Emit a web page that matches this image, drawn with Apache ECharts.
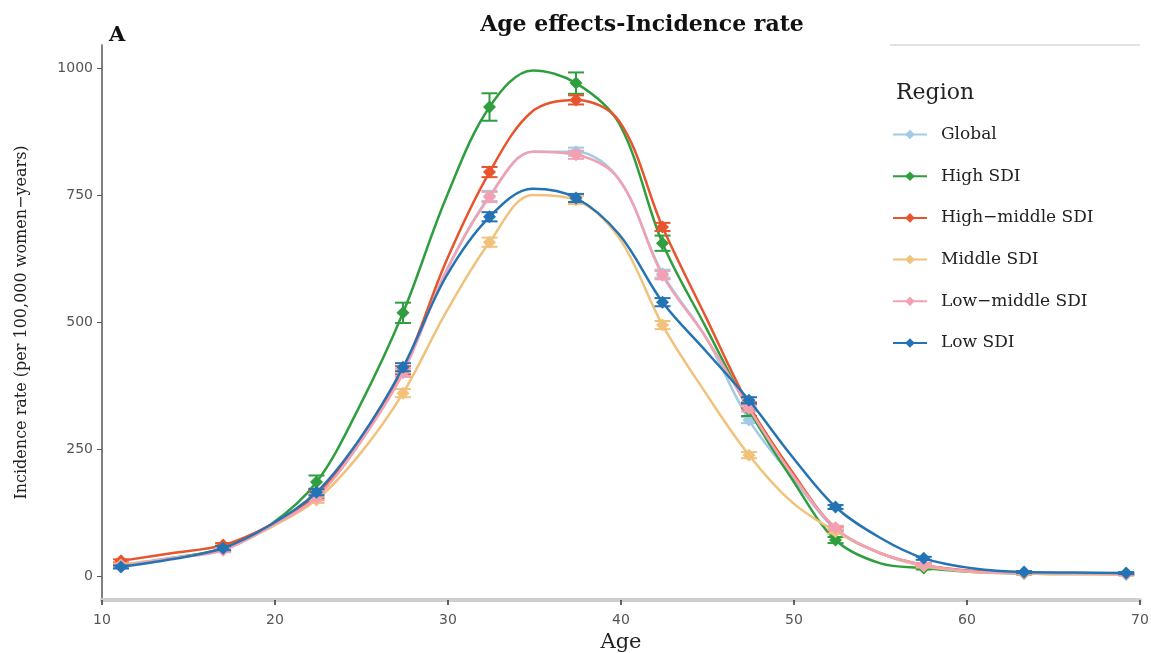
<!DOCTYPE html>
<html>
<head>
<meta charset="utf-8">
<script src="https://cdn.jsdelivr.net/npm/echarts@6/dist/echarts.min.js"></script>
<style>html,body{margin:0;padding:0;background:#fff;}#c{width:1151px;height:653px;}</style>
</head>
<body>
<div id="c"></div>
<script>
// ---- data ----
const regions = ['Global', 'High SDI', 'High\u2212middle SDI', 'Middle SDI', 'Low\u2212middle SDI', 'Low SDI'];
const colors = ['#9fcbe5', '#2f9e3f', '#e8552d', '#f0c27b', '#f2a0b2', '#2473b4'];
// ages where the group markers sit
const ages = [11.1, 17.0, 22.4, 27.4, 32.4, 37.4, 42.4, 47.4, 52.4, 57.5, 63.3, 69.2];
// ages between markers where the fitted curve was read
const midAges = [14.0, 19.7, 24.9, 29.9, 34.9, 39.9, 44.9, 49.9, 55.0, 60.4, 66.2];

const globalVals      = [22, 53, 157, 405, 748, 835, 595, 307, 92, 20, 6, 4];
const highVals        = [20, 55, 185, 518, 923, 970, 655, 327, 71, 16, 5, 4];
const highMiddleVals  = [30, 61, 160, 405, 795, 937, 687, 336, 94, 22, 6, 4];
const middleVals      = [22, 52, 150, 360, 657, 740, 494, 238, 88, 20, 5, 3];
const lowMiddleVals   = [20, 51, 155, 400, 746, 829, 592, 330, 95, 22, 6, 4];
const lowVals         = [18, 55, 165, 411, 707, 744, 539, 346, 136, 35, 8, 6];

const globalMid     = [36, 97, 262, 600, 835, 780, 470, 195, 45, 9, 5];
const highMid       = [35, 100, 335, 745, 995, 890, 490, 190, 25, 8, 4];
const highMiddleMid = [45, 100, 265, 620, 915, 895, 510, 205, 45, 10, 5];
const middleMid     = [35, 95, 240, 520, 750, 665, 360, 145, 45, 8, 4];
const lowMiddleMid  = [35, 97, 262, 600, 835, 780, 470, 200, 45, 9, 5];
const lowMid        = [33, 100, 270, 590, 762, 672, 443, 235, 75, 15, 7];

// half-widths of the error bars
const globalErr     = [3, 4, 6, 8, 10, 8, 8, 6, 4, 3, 2, 2];
const highErr       = [4, 5, 13, 20, 27, 21, 15, 12, 6, 3, 2, 2];
const highMiddleErr = [3, 4, 6, 8, 10, 9, 8, 6, 4, 3, 2, 2];
const middleErr     = [3, 4, 6, 8, 9, 8, 8, 6, 4, 3, 2, 2];
const lowMiddleErr  = [3, 4, 6, 8, 10, 8, 8, 6, 4, 3, 2, 2];
const lowErr        = [3, 4, 6, 8, 9, 8, 8, 6, 4, 3, 2, 2];

const xTicks = [10, 20, 30, 40, 50, 60, 70];
const yTicks = [0, 250, 500, 750, 1000];

const pointVals = [globalVals, highVals, highMiddleVals, middleVals, lowMiddleVals, lowVals];
const midVals = [globalMid, highMid, highMiddleMid, middleMid, lowMiddleMid, lowMid];
const errVals = [globalErr, highErr, highMiddleErr, middleErr, lowMiddleErr, lowErr];

const serif = '"DejaVu Serif", "Liberation Serif", serif';
const sans = '"DejaVu Sans", "Liberation Sans", sans-serif';

function curveData(i) {
  const out = [];
  for (let k = 0; k < ages.length; k++) {
    out.push([ages[k], pointVals[i][k]]);
    if (k < midAges.length) out.push([midAges[k], midVals[i][k]]);
  }
  return out;
}

const series = [];
regions.forEach((name, i) => {
  series.push({
    name: name, type: 'line', smooth: 0.35, showSymbol: false,
    symbol: 'diamond', symbolSize: 11,
    data: curveData(i),
    lineStyle: {color: colors[i], width: 2.5},
    itemStyle: {color: colors[i]},
    z: 2 + i
  });
  series.push({
    name: name, type: 'custom', z: 2 + i,
    data: ages.map((a, k) => [a, pointVals[i][k] - errVals[i][k], pointVals[i][k] + errVals[i][k], pointVals[i][k]]),
    renderItem: function (params, api) {
      const lo = api.coord([api.value(0), api.value(1)]);
      const hi = api.coord([api.value(0), api.value(2)]);
      const c = api.coord([api.value(0), api.value(3)]);
      const w = 8;
      const st = {stroke: colors[i], lineWidth: 2};
      return {
        type: 'group', children: [
          {type: 'line', shape: {x1: lo[0], y1: lo[1], x2: hi[0], y2: hi[1]}, style: st},
          {type: 'line', shape: {x1: lo[0] - w, y1: lo[1], x2: lo[0] + w, y2: lo[1]}, style: st},
          {type: 'line', shape: {x1: hi[0] - w, y1: hi[1], x2: hi[0] + w, y2: hi[1]}, style: st},
          {type: 'polygon', shape: {points: [[c[0], c[1] - 6.5], [c[0] + 6.5, c[1]], [c[0], c[1] + 6.5], [c[0] - 6.5, c[1]]]}, style: {fill: colors[i]}}
        ]
      };
    }
  });
});

const chart = echarts.init(document.getElementById('c'), null, {renderer: 'canvas'});
chart.setOption({
  backgroundColor: '#fff',
  animation: false,
  title: {
    text: 'Age effects-Incidence rate', left: 637, top: 9, textAlign: 'center',
    textStyle: {fontFamily: serif, fontWeight: 'bold', fontSize: 22, color: '#111'}
  },
  legend: {
    data: regions, orient: 'vertical', left: 887, top: 121,
    itemWidth: 34, itemHeight: 12, itemGap: 24.7,
    textStyle: {fontFamily: serif, fontSize: 17, color: '#222', padding: [0, 0, 0, 9]}
  },
  graphic: [
    {type: 'text', left: 109, top: 25, style: {text: 'A', font: 'bold 21px ' + serif, fill: '#111'}},
    {type: 'text', left: 896, top: 82, style: {text: 'Region', font: '22px ' + serif, fill: '#222'}},
    {type: 'line', shape: {x1: 890, y1: 45, x2: 1140, y2: 45}, style: {stroke: '#e2e2e2', lineWidth: 2}}
  ],
  grid: {left: 102, top: 45, width: 1038, height: 555, containLabel: false, outerBoundsMode: 'none'},
  xAxis: {
    type: 'value', min: 10, max: 70,
    name: 'Age', nameLocation: 'middle', nameGap: 31,
    nameTextStyle: {fontFamily: serif, fontSize: 21, color: '#222'},
    axisLine: {show: true, onZero: false, lineStyle: {color: '#cfcfcf', width: 4}},
    axisTick: {show: true, customValues: xTicks, length: 5, lineStyle: {color: '#333', width: 1.5}},
    axisLabel: {customValues: xTicks, color: '#555', fontFamily: sans, fontSize: 14, margin: 13},
    splitLine: {show: false}
  },
  yAxis: {
    type: 'value', min: -47, max: 1045,
    name: 'Incidence rate (per 100,000 women\u2212years)', nameLocation: 'middle', nameGap: 72,
    nameTextStyle: {fontFamily: serif, fontSize: 16, color: '#222'},
    axisLine: {show: true, onZero: false, lineStyle: {color: '#555', width: 1.5}},
    axisTick: {show: true, customValues: yTicks, length: 5, lineStyle: {color: '#555'}},
    axisLabel: {customValues: yTicks, formatter: v => String(v), color: '#555', fontFamily: sans, fontSize: 14, margin: 9},
    splitLine: {show: false}
  },
  series: series
});
</script>
</body>
</html>
